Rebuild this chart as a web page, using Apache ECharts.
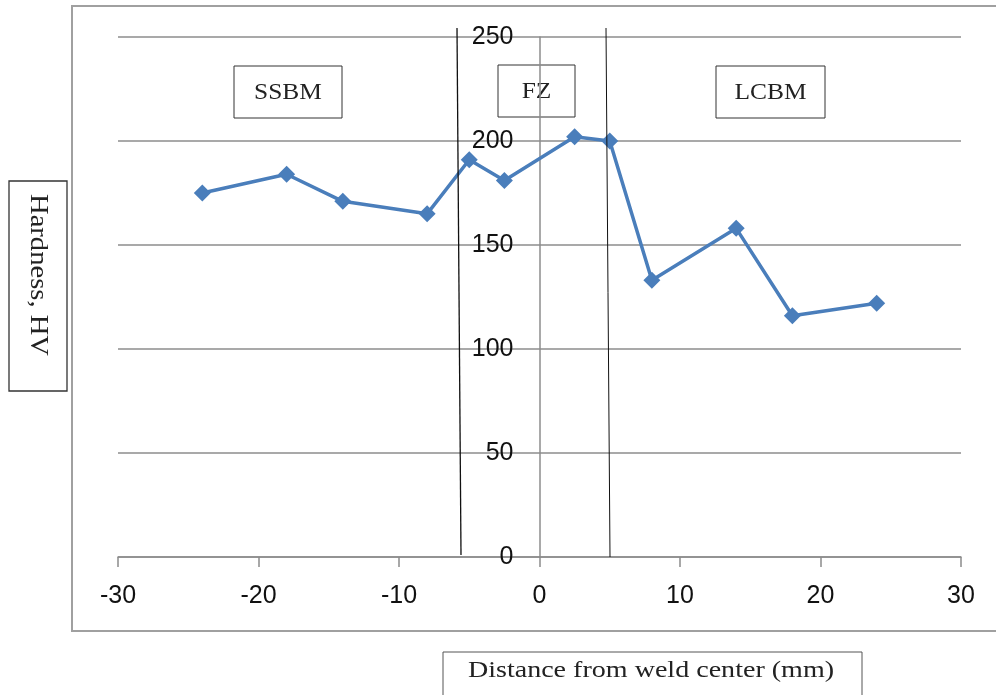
<!DOCTYPE html>
<html>
<head>
<meta charset="utf-8">
<script src="https://cdn.jsdelivr.net/npm/echarts@6/dist/echarts.min.js"></script>
<style>
  html, body { margin: 0; padding: 0; background: #fff; }
  #chart { width: 996px; height: 695px; }
</style>
</head>
<body>
<div id="chart"></div>
<script>
// distance from weld center (mm) and hardness (HV)
var distance = [-24, -18, -14, -8, -5, -2.5, 2.5, 5, 8, 14, 18, 24];
var hardness = [175, 184, 171, 165, 191, 181, 202, 200, 133, 158, 116, 122];
var zoneLabels = ["SSBM", "FZ", "LCBM"];
var yTicks = [0, 50, 100, 150, 200, 250];
var xTicks = [-30, -20, -10, 0, 10, 20, 30];

var chart = echarts.init(document.getElementById("chart"));

var gray = "#8c8c8c";
var serif = "'Liberation Serif'";
var tickFont = "'Liberation Sans'";

// grid edges in pixels
var gridLeft = 118, gridRight = 35;
var plotW = 996 - gridLeft - gridRight;
// distance from left edge of grid to x = 0
var zeroOffset = plotW * (0 - xTicks[0]) / (xTicks[xTicks.length - 1] - xTicks[0]);

function zoneBox(x, y, w, h, label) {
  return {
    type: "group",
    x: x, y: y,
    children: [
      { type: "rect", shape: { x: 0, y: 0, width: w, height: h },
        style: { fill: "#fff", stroke: "#333", lineWidth: 1 } },
      { type: "text", x: w / 2, y: h / 2 + 1, scaleX: 1.06,
        style: { text: label, fill: "#222", font: "24px " + serif, align: "center", verticalAlign: "middle" } }
    ]
  };
}

var option = {
  animation: false,
  grid: { left: gridLeft, right: gridRight, top: 37, bottom: 138 },
  xAxis: {
    type: "value",
    min: xTicks[0],
    max: xTicks[xTicks.length - 1],
    interval: 10,
    axisLine: { onZero: false, lineStyle: { color: gray, width: 1.5 } },
    axisTick: { show: true, inside: false, length: 10, lineStyle: { color: gray, width: 1.5 } },
    axisLabel: { color: "#111", fontSize: 25, fontFamily: tickFont, margin: 27 },
    splitLine: { show: false }
  },
  yAxis: {
    type: "value",
    min: yTicks[0],
    max: yTicks[yTicks.length - 1],
    interval: 50,
    axisLine: { show: true, onZero: true, lineStyle: { color: gray, width: 1.5 } },
    axisTick: { show: false },
    // labels sit just left of the axis at x = 0
    axisLabel: { color: "#111", fontSize: 25, fontFamily: tickFont, margin: 26 - zeroOffset },
    splitLine: { show: true, lineStyle: { color: gray, width: 1.5 } }
  },
  series: [{
    type: "line",
    data: distance.map(function (d, i) { return [d, hardness[i]]; }),
    symbol: "diamond",
    symbolSize: 17,
    lineStyle: { color: "#4a7ebb", width: 3.5 },
    itemStyle: { color: "#4a7ebb" },
    z: 5
  }],
  graphic: [
    // outer chart border
    { type: "rect", shape: { x: 72, y: 6, width: 930, height: 625 },
      style: { fill: null, stroke: "#a0a0a0", lineWidth: 2 }, z: -1 },
    // zone boundaries
    { type: "line", shape: { x1: 457, y1: 28, x2: 461, y2: 555 },
      style: { stroke: "#111", lineWidth: 1.3 }, z: 10 },
    { type: "line", shape: { x1: 606, y1: 28, x2: 610, y2: 557 },
      style: { stroke: "#111", lineWidth: 1 }, z: 10 },
    zoneBox(234, 66, 108, 52, zoneLabels[0]),
    zoneBox(498, 65, 77, 52, zoneLabels[1]),
    zoneBox(716, 66, 109, 52, zoneLabels[2]),
    // y axis title box
    { type: "group", x: 9, y: 181, children: [
      { type: "rect", shape: { x: 0, y: 0, width: 58, height: 210 },
        style: { fill: "#fff", stroke: "#333", lineWidth: 1.3 } },
      { type: "text", x: 29, y: 94, rotation: -Math.PI / 2, scaleX: 1.1,
        style: { text: "Hardness, HV", fill: "#222", font: "26px " + serif, align: "center", verticalAlign: "middle" } }
    ] },
    // x axis title box
    { type: "group", x: 443, y: 652, children: [
      { type: "rect", shape: { x: 0, y: 0, width: 419, height: 48 },
        style: { fill: "#fff", stroke: "#555", lineWidth: 1 } },
      { type: "text", x: 208, y: 19, scaleX: 1.22,
        style: { text: "Distance from weld center (mm)", fill: "#222", font: "23px " + serif, align: "center", verticalAlign: "middle" } }
    ] }
  ]
};

chart.setOption(option);
</script>
</body>
</html>
